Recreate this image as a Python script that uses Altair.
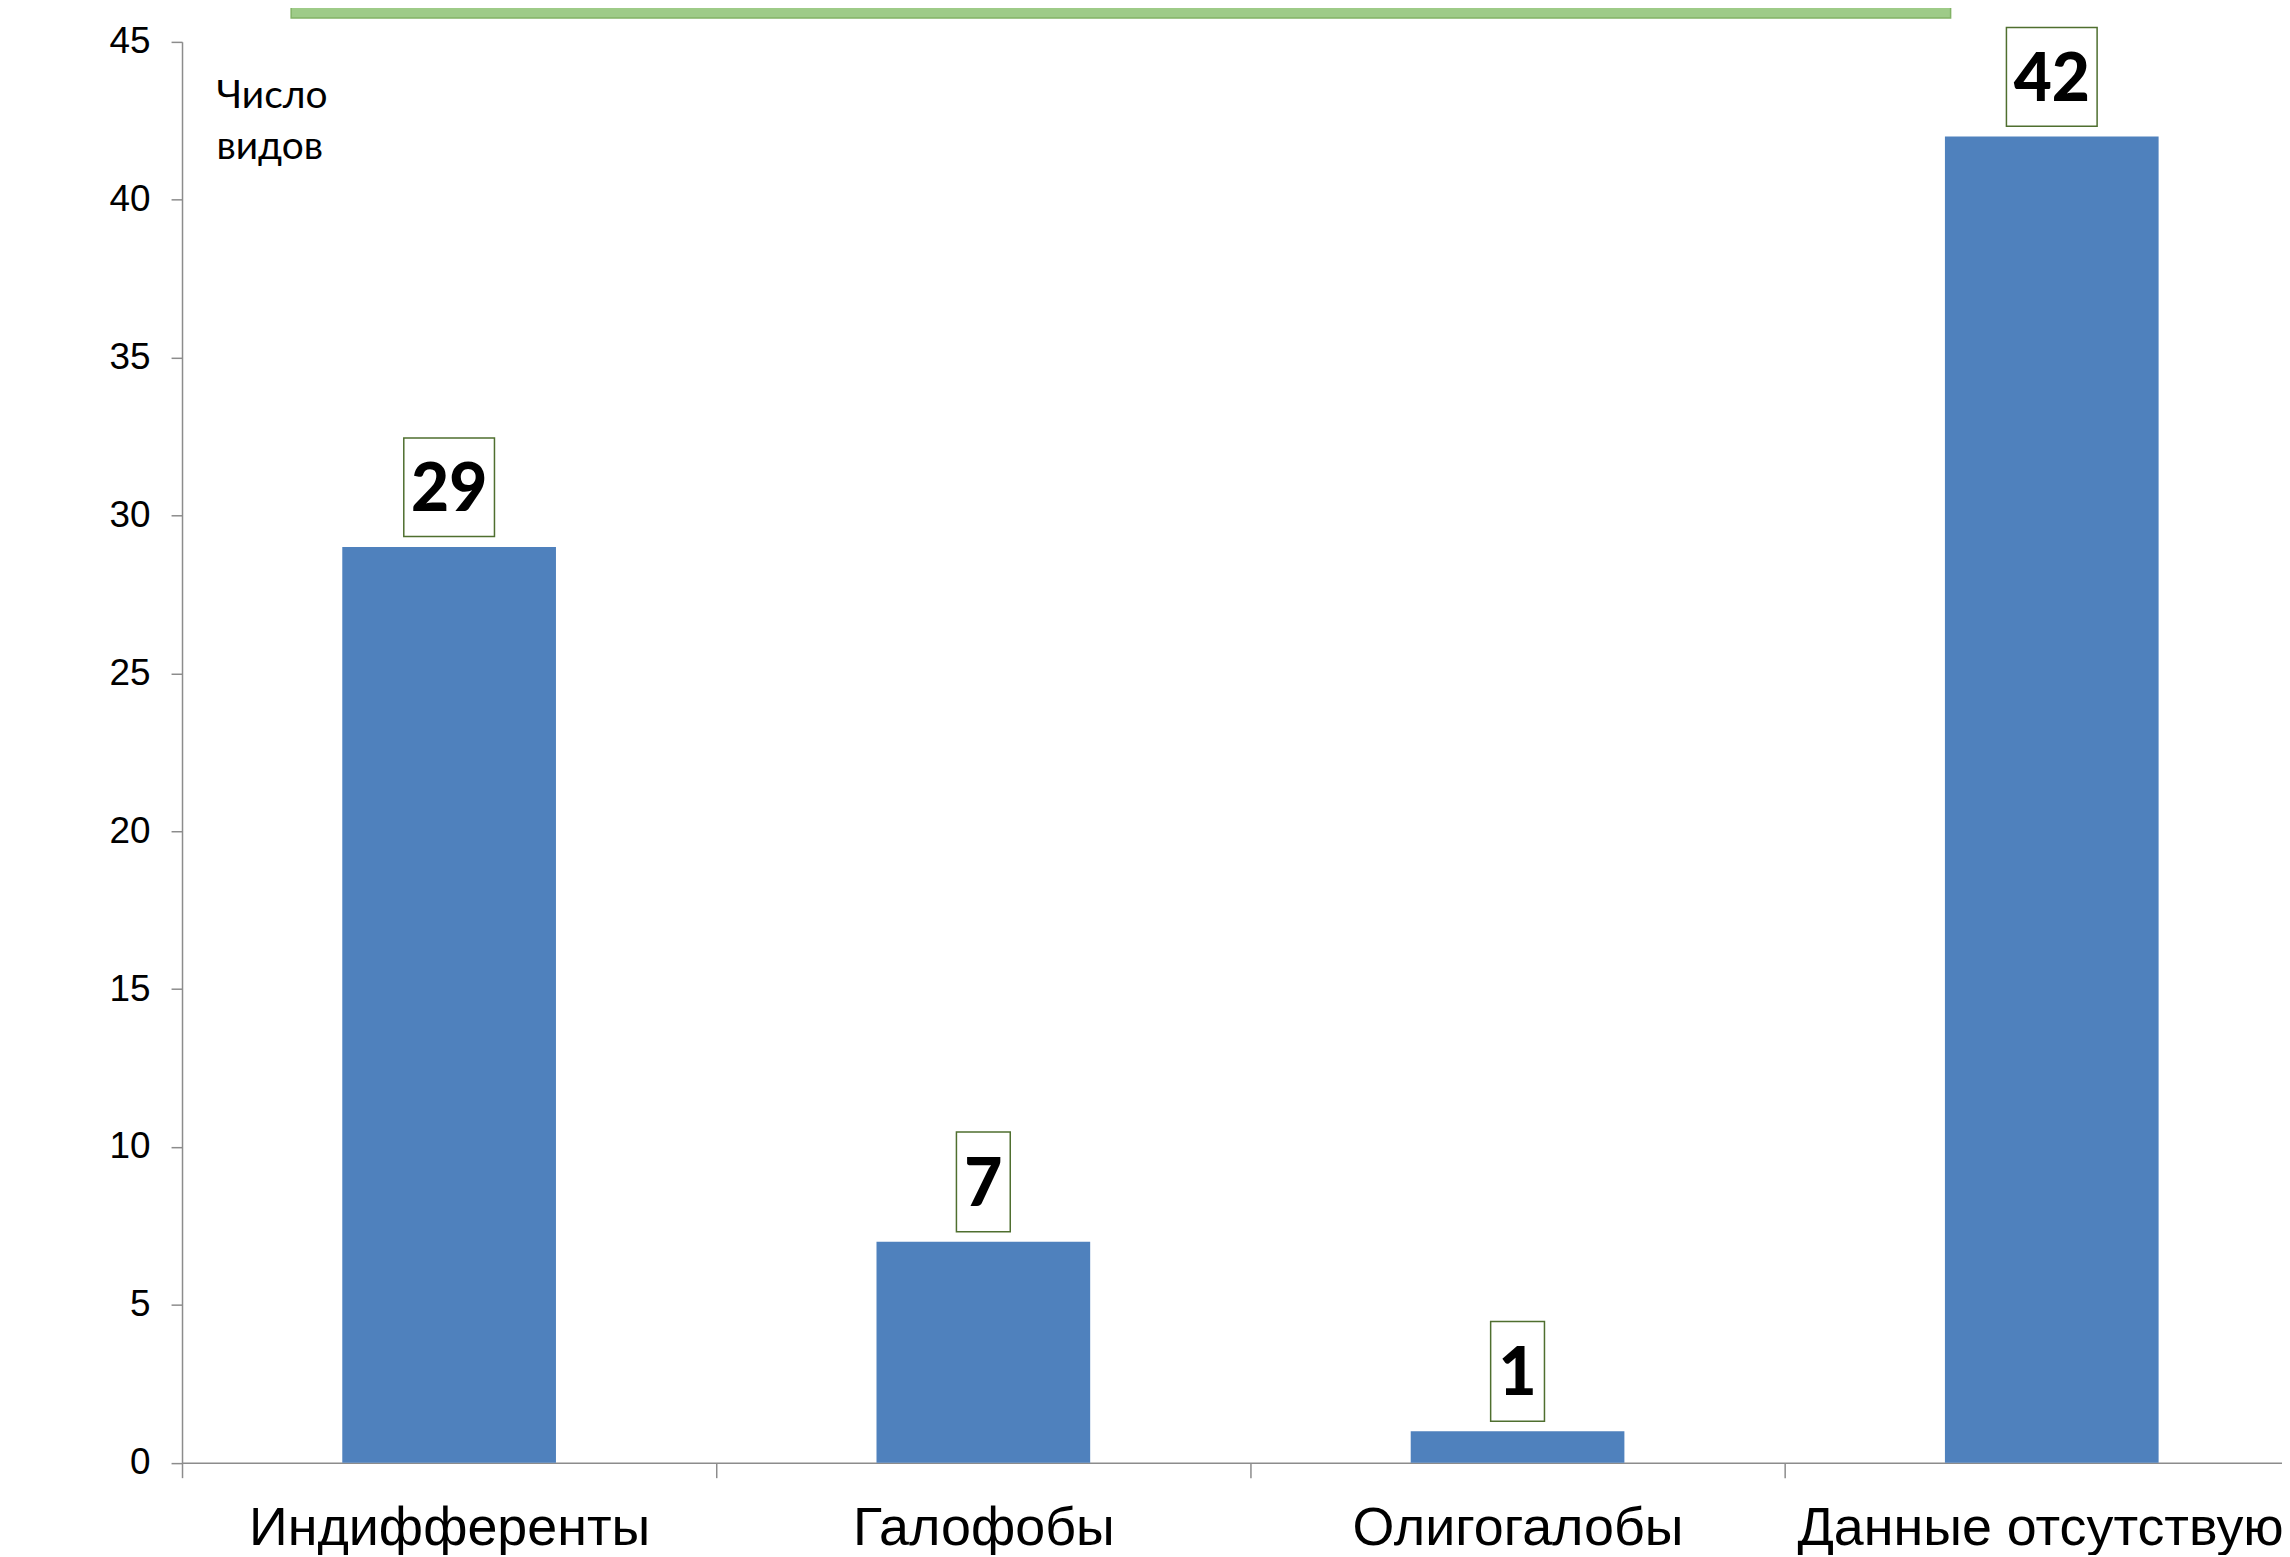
import altair as alt
import pandas as pd

# ---- data ----
categories = ["Индифференты", "Галофобы", "Олигогалобы", "Данные отсутствуют"]
counts = [29, 7, 1, 42]
labels = ["29", "7", "1", "42"]
y_ticks = [0, 5, 10, 15, 20, 25, 30, 35, 40, 45]
y_title_lines = ["Число", "видов"]

df = pd.DataFrame({"category": categories, "count": counts, "label": labels})

BAR = "#4F81BD"
AXIS = "#8C8C8C"
BOX_STROKE = "#4F6F2F"
LABEL_LIFT = 60

base = alt.Chart(df).encode(
    x=alt.X(
        "category:N",
        sort=categories,
        scale=alt.Scale(range=[0, 2144], paddingInner=0, paddingOuter=0),
        axis=alt.Axis(
            title=None,
            labelAngle=0,
            tickBand="extent",
            labelFont="Liberation Sans",
            labelFontSize=54,
            labelColor="black",
            labelPadding=24,
            labelLimit=2000,
            tickSize=15,
            tickColor=AXIS,
            tickWidth=1.5,
            domainColor=AXIS,
            domainWidth=1.5,
            labelOverlap=False,
        ),
    ),
    y=alt.Y(
        "count:Q",
        scale=alt.Scale(domain=[0, 45], nice=False),
        axis=alt.Axis(
            values=y_ticks,
            grid=False,
            title=y_title_lines,
            titleAngle=0,
            titleAlign="left",
            titleBaseline="top",
            titleX=34,
            titleY=35,
            titleFont="Lato",
            titleFontSize=39,
            titleFontWeight="normal",
            titleLineHeight=51,
            titleColor="black",
            labelFont="Liberation Sans",
            labelFontSize=37,
            labelColor="black",
            labelPadding=21,
            tickSize=11,
            tickColor=AXIS,
            tickWidth=1.5,
            domainColor=AXIS,
            domainWidth=1.5,
        ),
    ),
)

bars = base.mark_bar(color=BAR, width=alt.RelativeBandSize(0.4))

box_wide = base.transform_filter("datum.count >= 10").mark_point(
    shape="M-0.919,-1H0.919V1H-0.919Z",
    size=9801,
    filled=True,
    fill="white",
    stroke=BOX_STROKE,
    strokeWidth=1.5,
    opacity=1,
    yOffset=-LABEL_LIFT,
)

box_narrow = base.transform_filter("datum.count < 10").mark_point(
    shape="M-0.54,-1H0.54V1H-0.54Z",
    size=10000,
    filled=True,
    fill="white",
    stroke=BOX_STROKE,
    strokeWidth=1.5,
    opacity=1,
    yOffset=-LABEL_LIFT,
)

texts = base.mark_text(
    font="Lato",
    fontWeight=900,
    fontSize=66,
    baseline="middle",
    align="center",
    color="black",
    dy=-LABEL_LIFT + 4,
).encode(text="label:N")

banner = alt.Chart(pd.DataFrame({"k": [0]})).mark_rect(
    fill="#9ECB88", stroke="#82B366", strokeWidth=1.5
).encode(
    x=alt.value(109.5),
    x2=alt.value(1774.5),
    y=alt.value(-45),
    y2=alt.value(-24),
)

chart = (
    alt.layer(banner, bars, box_wide, box_narrow, texts)
    .properties(
        width=2107,
        height=1425.6,
        autosize=alt.AutoSizeParams(type="none"),
        padding={"left": 174.6, "top": 31.4, "right": 0, "bottom": 90},
        background="white",
    )
    .configure_view(stroke=None)
)

chart.save("out.html", embed_options={"renderer": "svg", "actions": False})
